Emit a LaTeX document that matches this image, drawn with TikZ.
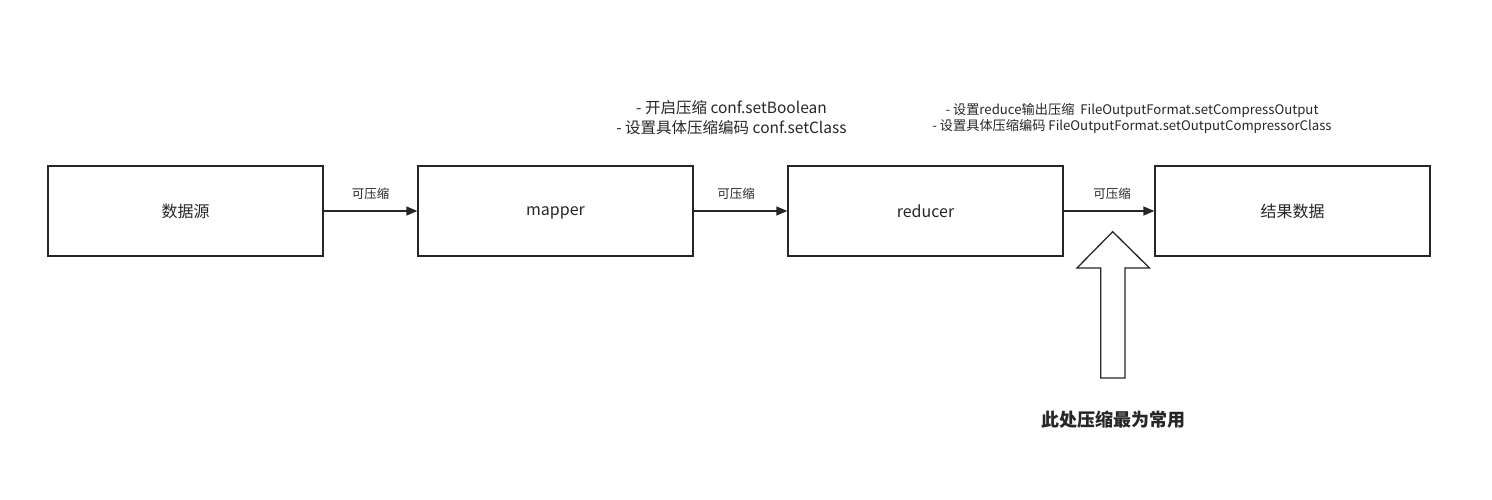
\documentclass[tikz,border=0pt]{standalone}
\usepackage{fontspec}
\setmainfont{Noto Sans CJK SC}
\usetikzlibrary{arrows.meta}
\tikzset{
  box/.style={draw=black!85, line width=1.3pt, minimum width=275pt, minimum height=90pt, inner sep=0pt, font=\fontsize{16}{19}\selectfont, text=black!85, text depth=0pt},
  conn/.style={draw=black!85, line width=1.3pt, -{Triangle[length=11pt,width=9pt]}},
  lbl/.style={font=\fontsize{12.5}{15}\selectfont, text=black!85, inner sep=0pt},
  note/.style={align=center, text=black!85, inner sep=0pt},
}
\begin{document}
\begin{tikzpicture}[x=1pt,y=1pt]
\useasboundingbox (0,0) rectangle (1492,500);
\node[box] (src) at (185.5,289) {数据源};
\node[box] (map) at (555.5,289) {mapper};
\node[box] (red) at (925.5,289) {reducer};
\node[box] (res) at (1292.5,289) {结果数据};
\draw[conn] (src.east) -- (map.west);
\draw[conn] (map.east) -- (red.west);
\draw[conn] (red.east) -- (res.west);
\node[lbl] (l1) at (370.5,306) {可压缩};
\node[lbl] (l2) at (736,306) {可压缩};
\node[lbl] (l3) at (1112,306) {可压缩};
\node[note, font=\fontsize{15.5}{20}\selectfont] (n1) at (731.5,382) {- 开启压缩 conf.setBoolean\\- 设置具体压缩编码 conf.setClass};
\node[note, font=\fontsize{13.2}{16}\selectfont] (n2) at (1132,382) {- 设置reduce输出压缩\ \ FileOutputFormat.setCompressOutput\\- 设置具体压缩编码 FileOutputFormat.setOutputCompressorClass};
\draw[draw=black!85, line width=1.3pt, fill=white, line join=miter]
  (1100.7,122) -- (1100.7,232) -- (1077,232) -- (1112.7,268.3) -- (1149.5,232) -- (1125,232) -- (1125,122) -- cycle;
\node[font=\fontsize{18}{22}\selectfont\bfseries, text=black!85, inner sep=0pt] (bold) at (1113,80) {此处压缩最为常用};
\end{tikzpicture}
\end{document}
